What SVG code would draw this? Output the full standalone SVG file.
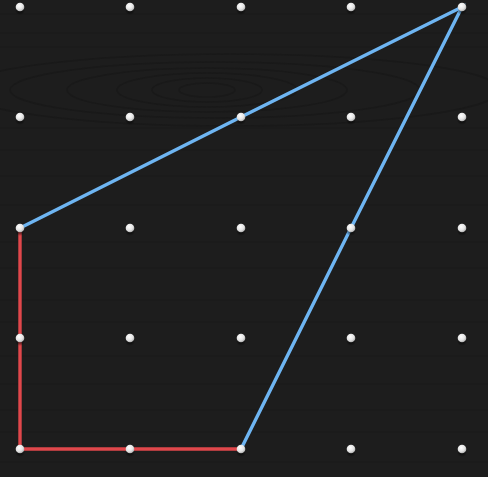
<svg xmlns="http://www.w3.org/2000/svg" width="488" height="477" viewBox="0 0 488 477">
<style>
.band{stroke-width:3.4;stroke-linecap:round;fill:none}
.blue{stroke:#6eb5f2}
.red{stroke:#e0474b}
.grain{fill:none;stroke:#151515;stroke-width:1.5;opacity:0.55}
.stripe{stroke:#181818;stroke-width:1.2;opacity:0.6}
</style>
<defs>
<radialGradient id="peg" cx="0.4" cy="0.35" r="0.7">
<stop offset="0" stop-color="#ffffff"/>
<stop offset="0.6" stop-color="#e4e4e4"/>
<stop offset="1" stop-color="#a8a8a8"/>
</radialGradient>
<radialGradient id="shadow" cx="0.5" cy="0.5" r="0.5">
<stop offset="0" stop-color="#000" stop-opacity="0.7"/>
<stop offset="1" stop-color="#000" stop-opacity="0"/>
</radialGradient>
<g id="p">
<ellipse cx="0" cy="4" rx="5" ry="4" fill="url(#shadow)"/>
<circle r="4.3" fill="url(#peg)"/>
</g>
</defs>
<rect width="488" height="477" fill="#1d1d1d"/>
<g id="wood">
<line class="stripe" x1="0" y1="14" x2="488" y2="14"/>
<line class="stripe" x1="0" y1="33" x2="488" y2="33"/>
<line class="stripe" x1="0" y1="47" x2="488" y2="47"/>
<line class="stripe" x1="0" y1="128" x2="488" y2="128"/>
<line class="stripe" x1="0" y1="150" x2="488" y2="150"/>
<line class="stripe" x1="0" y1="176" x2="488" y2="176"/>
<line class="stripe" x1="0" y1="205" x2="488" y2="205"/>
<line class="stripe" x1="0" y1="242" x2="488" y2="242"/>
<line class="stripe" x1="0" y1="268" x2="488" y2="268"/>
<line class="stripe" x1="0" y1="300" x2="488" y2="300"/>
<line class="stripe" x1="0" y1="322" x2="488" y2="322"/>
<line class="stripe" x1="0" y1="356" x2="488" y2="356"/>
<line class="stripe" x1="0" y1="384" x2="488" y2="384"/>
<line class="stripe" x1="0" y1="410" x2="488" y2="410"/>
<line class="stripe" x1="0" y1="432" x2="488" y2="432"/>
<line class="stripe" x1="0" y1="462" x2="488" y2="462"/>
<ellipse class="grain" cx="207" cy="90" rx="28" ry="7"/>
<ellipse class="grain" cx="207" cy="90" rx="55" ry="12"/>
<ellipse class="grain" cx="207" cy="90" rx="90" ry="17"/>
<ellipse class="grain" cx="207" cy="90" rx="140" ry="22"/>
<ellipse class="grain" cx="215" cy="90" rx="205" ry="28"/>
<ellipse class="grain" cx="230" cy="90" rx="270" ry="36"/>
</g>
<g id="connectors">
<polyline class="band blue" points="20,228 241,117 462,7 351,228 241,449"/>
<polyline class="band red" points="20,228 20,338 20,449 130,449 241,449"/>
</g>
<g id="pegs">
<use href="#p" x="20" y="7"/><use href="#p" x="130" y="7"/><use href="#p" x="241" y="7"/><use href="#p" x="351" y="7"/><use href="#p" x="462" y="7"/>
<use href="#p" x="20" y="117"/><use href="#p" x="130" y="117"/><use href="#p" x="241" y="117"/><use href="#p" x="351" y="117"/><use href="#p" x="462" y="117"/>
<use href="#p" x="20" y="228"/><use href="#p" x="130" y="228"/><use href="#p" x="241" y="228"/><use href="#p" x="351" y="228"/><use href="#p" x="462" y="228"/>
<use href="#p" x="20" y="338"/><use href="#p" x="130" y="338"/><use href="#p" x="241" y="338"/><use href="#p" x="351" y="338"/><use href="#p" x="462" y="338"/>
<use href="#p" x="20" y="449"/><use href="#p" x="130" y="449"/><use href="#p" x="241" y="449"/><use href="#p" x="351" y="449"/><use href="#p" x="462" y="449"/>
</g>
</svg>
